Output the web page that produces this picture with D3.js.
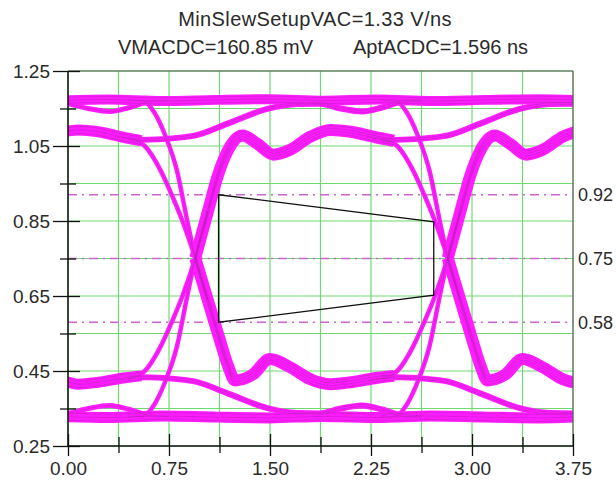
<!DOCTYPE html>
<html>
<head>
<meta charset="utf-8">
<script src="https://cdn.jsdelivr.net/npm/d3@7"></script>
<style>
  body { margin: 0; background: #fff; }
  svg { display: block; }
  text { font-family: "Liberation Sans", Arial, sans-serif; fill: #2a2a2a; }
</style>
</head>
<body>
<script>
// titles
const title1 = "MinSlewSetupVAC=1.33 V/ns";
const title2a = "VMACDC=160.85 mV";
const title2b = "AptACDC=1.596 ns";

// axis ticks
const xMajor = [0, 0.75, 1.5, 2.25, 3, 3.75];
const xMinor = [0.375, 1.125, 1.875, 2.625, 3.375];
const yMajor = [1.25, 1.05, 0.85, 0.65, 0.45, 0.25];
const yMinor = [1.15, 0.95, 0.75, 0.55, 0.35];

// reference levels (dash-dot) and the ac/dc window
const refLevels = [0.92, 0.75, 0.58];
const windowPts = [[1.118, 0.92], [2.716, 0.848], [2.716, 0.652], [1.118, 0.58]];

// eye traces [time ns, volt]
const hiFlat = [[-0.1,1.171],[0.3,1.174],[0.7,1.17],[1.1,1.173],[1.5,1.175],[1.9,1.171],[2.3,1.174],[2.7,1.17],[3.1,1.173],[3.5,1.175],[3.85,1.171]];
const hiDipA = [[-0.1,1.168],[0,1.163],[0.15,1.15],[0.31,1.142],[0.45,1.152],[0.6,1.168],[0.75,1.172]];
const driftHiA = [[0.45,1.066],[0.61,1.067],[0.93,1.077],[1.18,1.109],[1.48,1.149],[1.7,1.162],[1.875,1.163],[2.025,1.15],[2.185,1.142],[2.325,1.152],[2.475,1.168],[2.625,1.172]];
const driftHiB = [[2.325,1.066],[2.485,1.067],[2.805,1.077],[3.055,1.109],[3.355,1.149],[3.575,1.162],[3.75,1.163],[3.9,1.15]];
const tailHi = [[-0.1,1.085],[0,1.09],[0.075,1.093],[0.225,1.088],[0.425,1.072],[0.545,1.064]];
const riseRingA = [[0.945,0.751],[1.04,0.877],[1.116,0.975],[1.19,1.04],[1.295,1.078],[1.41,1.055],[1.525,1.027],[1.65,1.04],[1.8,1.075],[1.95,1.093],[2.1,1.088],[2.3,1.072],[2.42,1.064]];
const riseRingB = [[2.82,0.751],[2.915,0.877],[2.991,0.975],[3.065,1.04],[3.17,1.078],[3.285,1.055],[3.4,1.027],[3.525,1.04],[3.675,1.075],[3.825,1.093]];
const fallHiA = [[0.45,1.172],[0.56,1.17],[0.64,1.14],[0.72,1.08],[0.81,0.983],[0.88,0.86],[0.945,0.751],[1.04,0.637]];
const fallSecA = [[0.35,1.075],[0.5,1.065],[0.57,1.05],[0.69,0.983],[0.77,0.92],[0.85,0.85],[0.945,0.751],[1.04,0.637]];
const fallHiB = [[2.325,1.172],[2.435,1.17],[2.515,1.14],[2.595,1.08],[2.685,0.983],[2.755,0.86],[2.82,0.751],[2.915,0.637]];
const fallSecB = [[2.225,1.075],[2.375,1.065],[2.445,1.05],[2.565,0.983],[2.645,0.92],[2.725,0.85],[2.82,0.751],[2.915,0.637]];

const loFlat = [[-0.1,0.329],[0.3,0.326],[0.7,0.33],[1.1,0.327],[1.5,0.325],[1.9,0.329],[2.3,0.326],[2.7,0.33],[3.1,0.327],[3.5,0.325],[3.85,0.329]];
const loDipA = [[-0.1,0.332],[0,0.337],[0.15,0.35],[0.31,0.358],[0.45,0.348],[0.6,0.332],[0.75,0.328]];
const driftLoA = [[0.45,0.434],[0.61,0.433],[0.93,0.423],[1.18,0.391],[1.48,0.351],[1.7,0.338],[1.875,0.337],[2.025,0.35],[2.185,0.358],[2.325,0.348],[2.475,0.332],[2.625,0.328]];
const driftLoB = [[2.325,0.434],[2.485,0.433],[2.805,0.423],[3.055,0.391],[3.355,0.351],[3.575,0.338],[3.75,0.337],[3.9,0.35]];
const tailLo = [[-0.1,0.425],[0,0.42],[0.075,0.415],[0.225,0.42],[0.425,0.432],[0.545,0.437]];
const fallRingA = [[0.945,0.751],[1.04,0.637],[1.13,0.53],[1.19,0.462],[1.24,0.425],[1.37,0.44],[1.5,0.482],[1.65,0.46],[1.8,0.428],[1.95,0.415],[2.1,0.42],[2.3,0.432],[2.42,0.437]];
const fallRingB = [[2.82,0.751],[2.915,0.637],[3.005,0.53],[3.065,0.462],[3.115,0.425],[3.245,0.44],[3.375,0.482],[3.525,0.46],[3.675,0.428],[3.825,0.415]];
const riseLoA = [[0.45,0.328],[0.56,0.33],[0.64,0.36],[0.72,0.42],[0.81,0.517],[0.88,0.64],[0.945,0.751],[1.04,0.877]];
const riseSecA = [[0.35,0.425],[0.5,0.435],[0.57,0.45],[0.69,0.517],[0.77,0.58],[0.85,0.65],[0.945,0.751],[1.04,0.877]];
const riseLoB = [[2.325,0.328],[2.435,0.33],[2.515,0.36],[2.595,0.42],[2.685,0.517],[2.755,0.64],[2.82,0.751],[2.915,0.877]];
const riseSecB = [[2.225,0.425],[2.375,0.435],[2.445,0.45],[2.565,0.517],[2.645,0.58],[2.725,0.65],[2.82,0.751],[2.915,0.877]];

// svg size and plot box
const w = 616;
const h = 487;
const pLeft = 68, pRight = 573, pTop = 71, pBottom = 446;

const magenta = "#ff1cff";
const magentaDark = "#b020b0";
const gridColor = "#70da70";

const xScale = d3.scaleLinear().domain([0, 3.75]).range([pLeft, pRight]);
const yScale = d3.scaleLinear().domain([0.25, 1.25]).range([pBottom, pTop]);

const svg = d3.select("body").append("svg")
    .attr("width", w)
    .attr("height", h);

svg.append("defs").append("clipPath").attr("id", "plot")
   .append("rect")
   .attr("x", pLeft).attr("y", pTop)
   .attr("width", pRight - pLeft).attr("height", pBottom - pTop);

// green grid
const allX = xMajor.concat(xMinor);
const allY = yMajor.concat(yMinor);
svg.append("g").selectAll("line")
   .data(allX)
   .enter().append("line")
   .attr("x1", d => xScale(d)).attr("x2", d => xScale(d))
   .attr("y1", pTop).attr("y2", pBottom)
   .attr("stroke", gridColor).attr("stroke-width", 1.2);
svg.append("g").selectAll("line")
   .data(allY)
   .enter().append("line")
   .attr("x1", pLeft).attr("x2", pRight)
   .attr("y1", d => yScale(d)).attr("y2", d => yScale(d))
   .attr("stroke", gridColor).attr("stroke-width", 1.2);

// dash-dot reference levels
svg.append("g").selectAll("line")
   .data(refLevels)
   .enter().append("line")
   .attr("x1", pLeft).attr("x2", pRight)
   .attr("y1", d => yScale(d)).attr("y2", d => yScale(d))
   .attr("stroke", "#cc66cc").attr("stroke-width", 1.4)
   .attr("stroke-dasharray", "9,5,2,5");

// eye traces
const traces = [
  {pts: hiFlat, w: 10, n: 3}, {pts: loFlat, w: 11, n: 3},
  {pts: hiDipA, w: 5, n: 1}, {pts: loDipA, w: 5, n: 1},
  {pts: driftHiA, w: 6, n: 2}, {pts: driftHiB, w: 6, n: 2},
  {pts: driftLoA, w: 6, n: 2}, {pts: driftLoB, w: 6, n: 2},
  {pts: tailHi, w: 11, n: 3}, {pts: tailLo, w: 11, n: 3},
  {pts: riseRingA, w: 12, n: 4}, {pts: riseRingB, w: 12, n: 4},
  {pts: fallRingA, w: 12, n: 4}, {pts: fallRingB, w: 12, n: 4},
  {pts: fallHiA, w: 4.5, n: 1}, {pts: fallSecA, w: 4.5, n: 1},
  {pts: fallHiB, w: 4.5, n: 1}, {pts: fallSecB, w: 4.5, n: 1},
  {pts: riseLoA, w: 4.5, n: 1}, {pts: riseSecA, w: 4.5, n: 1},
  {pts: riseLoB, w: 4.5, n: 1}, {pts: riseSecB, w: 4.5, n: 1}
];

const line = d3.line()
    .x(d => xScale(d[0]))
    .y(d => yScale(d[1]))
    .curve(d3.curveMonotoneX);

const eye = svg.append("g").attr("clip-path", "url(#plot)");

eye.selectAll("path.band")
   .data(traces)
   .enter().append("path")
   .attr("class", "band")
   .attr("d", d => line(d.pts))
   .attr("fill", "none")
   .attr("stroke", magenta)
   .attr("stroke-width", d => d.w)
   .attr("stroke-linejoin", "round");

// thin darker strands inside each band
traces.forEach(t => {
  for (let i = 0; i < t.n; i++) {
    const off = t.n == 1 ? 0 : (i - (t.n - 1) / 2) * (t.w - 4) / (t.n - 1);
    eye.append("path")
       .attr("d", line(t.pts))
       .attr("transform", `translate(0, ${off})`)
       .attr("fill", "none")
       .attr("stroke", magentaDark)
       .attr("stroke-opacity", 0.55)
       .attr("stroke-width", 0.8);
  }
});

// ac/dc window
svg.append("path")
   .attr("d", d3.line().x(d => xScale(d[0])).y(d => yScale(d[1]))(windowPts) + "Z")
   .attr("fill", "none")
   .attr("stroke", "#111")
   .attr("stroke-width", 1.3);

// frame
svg.append("line").attr("x1", pLeft).attr("x2", pRight).attr("y1", pTop).attr("y2", pTop)
   .attr("stroke", "#555").attr("stroke-width", 1);
svg.append("line").attr("x1", pRight).attr("x2", pRight).attr("y1", pTop).attr("y2", pBottom)
   .attr("stroke", "#555").attr("stroke-width", 1);

// axes
const fontSize = "19px";
const yAxis = svg.append("g")
   .attr("transform", `translate(${pLeft}, 0)`)
   .call(d3.axisLeft(yScale).tickValues(yMajor).tickFormat(d3.format(".2f")).tickSize(15).tickPadding(3));
yAxis.selectAll(".tick line").attr("x1", 12);
const yAxisMinor = svg.append("g")
   .attr("transform", `translate(${pLeft}, 0)`)
   .call(d3.axisLeft(yScale).tickValues(yMinor).tickFormat("").tickSize(8));
yAxisMinor.selectAll(".tick line").attr("x1", 8);

const xAxis = svg.append("g")
   .attr("transform", `translate(0, ${pBottom})`)
   .call(d3.axisBottom(xScale).tickValues(xMajor).tickFormat(d3.format(".2f")).tickSize(10).tickPadding(6));
xAxis.selectAll(".tick line").attr("y1", -12);
const xAxisMinor = svg.append("g")
   .attr("transform", `translate(0, ${pBottom})`)
   .call(d3.axisBottom(xScale).tickValues(xMinor).tickFormat("").tickSize(7));
xAxisMinor.selectAll(".tick line").attr("y1", -9);

[yAxis, yAxisMinor, xAxis, xAxisMinor].forEach(a => {
  a.select(".domain").remove();
  a.selectAll(".tick line").attr("stroke", "#111").attr("stroke-width", 1.3);
  a.selectAll("text").style("font-size", fontSize).style("font-family", "Liberation Sans, Arial, sans-serif").attr("fill", "#2a2a2a");
});

svg.append("line").attr("x1", pLeft).attr("x2", pLeft).attr("y1", pTop).attr("y2", pBottom)
   .attr("stroke", "#111").attr("stroke-width", 1.5);
svg.append("line").attr("x1", pLeft).attr("x2", pRight).attr("y1", pBottom).attr("y2", pBottom)
   .attr("stroke", "#111").attr("stroke-width", 1.5);

// right side level labels
svg.append("g").selectAll("text")
   .data(refLevels)
   .enter().append("text")
   .attr("x", pRight + 5)
   .attr("y", d => yScale(d))
   .attr("dy", "0.35em")
   .style("font-size", "18px")
   .text(d => d3.format(".2f")(d));

// titles
const titleSize = "20px";
svg.append("text")
   .attr("x", 315).attr("y", 26)
   .attr("text-anchor", "middle")
   .style("font-size", titleSize)
   .style("letter-spacing", "0.4px")
   .text(title1);
svg.append("text")
   .attr("x", 118).attr("y", 54)
   .style("font-size", titleSize)
   .text(title2a);
svg.append("text")
   .attr("x", 353).attr("y", 54)
   .style("font-size", titleSize)
   .text(title2b);
</script>
</body>
</html>
